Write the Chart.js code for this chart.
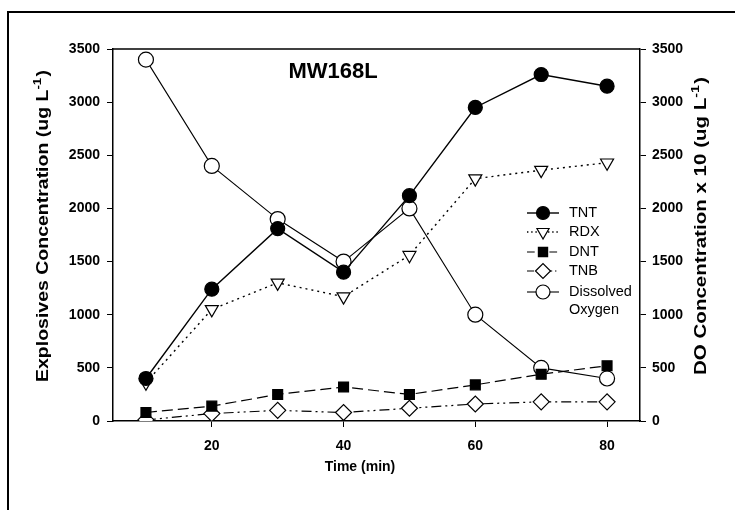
<!DOCTYPE html>
<html>
<head>
<meta charset="utf-8">
<script src="https://cdn.jsdelivr.net/npm/chart.js@4.4.1/dist/chart.umd.min.js"></script>
<style>
  html, body { margin: 0; padding: 0; background: #fff; }
  #wrap { width: 735px; height: 510px; position: relative; }
</style>
</head>
<body>
<div id="wrap"><canvas id="chart" width="735" height="510"></canvas></div>
<script>
const times = [10, 20, 30, 40, 50, 60, 70, 80];
const tnt = [400, 1240, 1810, 1400, 2120, 2950, 3260, 3150];
const rdx = [360, 1050, 1300, 1170, 1560, 2280, 2360, 2430];
const dnt = [80, 140, 250, 320, 250, 340, 440, 520];
const tnb = [10, 70, 100, 80, 120, 160, 180, 180];
const dissolvedOxygen = [3400, 2400, 1900, 1500, 2000, 1000, 500, 400];
const xTicks = [20, 40, 60, 80];
const yTicks = [0, 500, 1000, 1500, 2000, 2500, 3000, 3500];
const seriesNames = ['TNT', 'RDX', 'DNT', 'TNB', 'Dissolved Oxygen'];

const FONT = 'Arial, "Liberation Sans", sans-serif';

function pts(values) {
    return times.map((t, i) => ({ x: t, y: values[i] }));
}

const datasets = [
    { label: seriesNames[0], data: pts(tnt), yAxisID: 'y', borderWidth: 1.4, borderDash: [],
      pointStyle: 'circle', pointRadius: 7, pointBackgroundColor: '#000' },
    { label: seriesNames[1], data: pts(rdx), yAxisID: 'y', borderWidth: 1.4, borderDash: [2, 4],
      pointStyle: 'triangle', pointRotation: 180, pointRadius: 7.5, pointBackgroundColor: '#fff' },
    { label: seriesNames[2], data: pts(dnt), yAxisID: 'y', borderWidth: 1.2, borderDash: [11, 5],
      pointStyle: 'rect', pointRadius: 7, pointBackgroundColor: '#000' },
    { label: seriesNames[3], data: pts(tnb), yAxisID: 'y', borderWidth: 1.2, borderDash: [10, 4, 2, 4, 2, 4],
      pointStyle: 'rectRot', pointRadius: 8, pointBackgroundColor: '#fff' },
    { label: seriesNames[4], data: pts(dissolvedOxygen), yAxisID: 'y2', borderWidth: 1.1, borderDash: [],
      pointStyle: 'circle', pointRadius: 7.5, pointBackgroundColor: '#fff' }
];
datasets.forEach(d => {
    d.borderColor = '#000';
    d.pointBorderColor = '#000';
    d.pointBorderWidth = 1.2;
    d.fill = false;
    d.tension = 0;
});

// frame, title, axis titles and legend drawn on the canvas
const decorations = {
    id: 'decorations',
    afterDraw(chart) {
        const ctx = chart.ctx;
        const a = chart.chartArea;
        ctx.save();
        ctx.strokeStyle = '#000';
        ctx.fillStyle = '#000';

        // outer frame (left + top)
        ctx.lineWidth = 2;
        ctx.beginPath();
        ctx.moveTo(8, 510);
        ctx.lineTo(8, 12);
        ctx.lineTo(735, 12);
        ctx.stroke();

        // top edge of plot
        ctx.lineWidth = 1.5;
        ctx.beginPath();
        ctx.moveTo(a.left, a.top);
        ctx.lineTo(a.right, a.top);
        ctx.stroke();

        // chart title inside plot
        ctx.font = 'bold 22px ' + FONT;
        ctx.textAlign = 'center';
        ctx.textBaseline = 'alphabetic';
        ctx.fillText('MW168L', 333, 78);

        // x axis title
        ctx.font = 'bold 14px ' + FONT;
        ctx.textBaseline = 'middle';
        ctx.fillText('Time (min)', 360, 467);

        // rotated y titles with superscript
        drawYTitle(ctx, 'Explosives Concentration (ug L', ')', 44, 226, 312);
        drawYTitle(ctx, 'DO Concentration x 10 (ug L', ')', 702, 226, 298);

        // legend
        drawLegend(ctx, chart);
        ctx.restore();
    }
};

function drawYTitle(ctx, main, tail, cx, cy, length) {
    const mainFont = 'bold 16px ' + FONT;
    const supFont = 'bold 11px ' + FONT;
    ctx.font = mainFont;
    const w1 = ctx.measureText(main).width;
    const w3 = ctx.measureText(tail).width;
    ctx.font = supFont;
    const w2 = ctx.measureText('-1').width + 1;
    const total = w1 + w2 + w3;
    const sx = length / total;
    ctx.save();
    ctx.translate(cx, cy);
    ctx.rotate(-Math.PI / 2);
    ctx.scale(sx, 1);
    ctx.textAlign = 'left';
    ctx.textBaseline = 'middle';
    let x = -total / 2;
    ctx.font = mainFont;
    ctx.fillText(main, x, 0);
    x += w1;
    ctx.font = supFont;
    ctx.fillText('-1', x, -6);
    x += w2;
    ctx.font = mainFont;
    ctx.fillText(tail, x, 0);
    ctx.restore();
}

function drawLegend(ctx, chart) {
    const rows = [213, 232, 252, 271, 292];
    const x0 = 527, x1 = 559, mx = 543, tx = 569;
    chart.data.datasets.forEach((d, i) => {
        const y = rows[i];
        ctx.save();
        ctx.lineWidth = d.borderWidth;
        ctx.setLineDash(d.borderDash.length ? d.borderDash.map(v => v * 0.7) : []);
        ctx.beginPath();
        ctx.moveTo(x0, y);
        ctx.lineTo(x1, y);
        ctx.stroke();
        ctx.setLineDash([]);
        ctx.fillStyle = d.pointBackgroundColor;
        ctx.lineWidth = d.pointBorderWidth;
        Chart.helpers.drawPoint(ctx, {
            pointStyle: d.pointStyle,
            rotation: d.pointRotation || 0,
            radius: d.pointRadius - 0.5,
            borderWidth: d.pointBorderWidth
        }, mx, y);
        ctx.restore();
        ctx.fillStyle = '#000';
        ctx.font = '14.5px ' + FONT;
        ctx.textAlign = 'left';
        ctx.textBaseline = 'middle';
        if (i === 4) {
            ctx.fillText('Dissolved', tx, y);
            ctx.fillText('Oxygen', tx, y + 18);
        } else {
            ctx.fillText(d.label, tx, y);
        }
    });
}

const tickFont = { family: FONT, size: 14, weight: 'bold' };

function yAxis(position, width, pad) {
    return {
        type: 'linear',
        position: position,
        min: 0,
        max: 3500,
        afterBuildTicks: s => { s.ticks = yTicks.map(v => ({ value: v })); },
        afterFit: s => { s.width = width; },
        grid: { display: true, drawOnChartArea: false, drawTicks: true, tickLength: 6, color: '#000', lineWidth: 1 },
        border: { display: true, color: '#000', width: 1.5 },
        ticks: { color: '#000', padding: pad, font: tickFont, callback: v => String(v) }
    };
}

new Chart(document.getElementById('chart'), {
    type: 'line',
    data: { datasets: datasets },
    options: {
        responsive: false,
        animation: false,
        events: [],
        layout: { padding: { top: 49, left: 0, right: 0, bottom: 0 } },
        plugins: { legend: { display: false }, tooltip: { enabled: false } },
        scales: {
            x: {
                type: 'linear',
                min: 5,
                max: 85,
                afterBuildTicks: s => { s.ticks = xTicks.map(v => ({ value: v })); },
                afterFit: s => { s.height = 89; },
                grid: { display: true, drawOnChartArea: false, drawTicks: true, tickLength: 6, color: '#000', lineWidth: 1 },
                border: { display: true, color: '#000', width: 1.5 },
                ticks: { color: '#000', padding: 11, font: tickFont, callback: v => String(v) }
            },
            y: yAxis('left', 113, 7),
            y2: yAxis('right', 95, 6)
        }
    },
    plugins: [decorations]
});
</script>
</body>
</html>
